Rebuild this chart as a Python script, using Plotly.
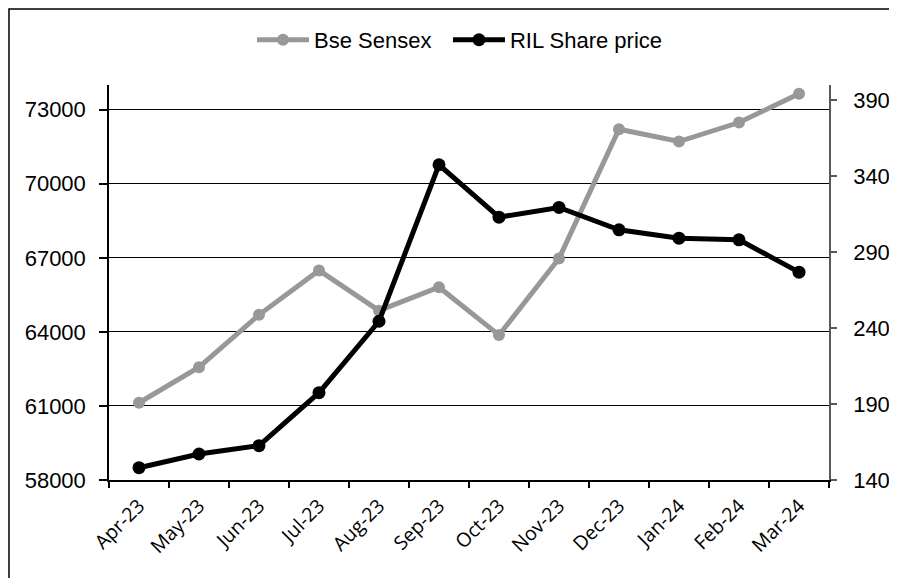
import plotly.graph_objects as go
from plotly.subplots import make_subplots

months = ["Apr-23", "May-23", "Jun-23", "Jul-23", "Aug-23", "Sep-23",
          "Oct-23", "Nov-23", "Dec-23", "Jan-24", "Feb-24", "Mar-24"]
sensex = [61130, 62570, 64690, 66490, 64860, 65810,
          63870, 66970, 72210, 71710, 72480, 73650]
ril = [148.1, 157.1, 162.6, 197.5, 244.5, 347.5,
       313.0, 319.4, 304.7, 299.2, 298.1, 276.8]

left_ticks = [58000, 61000, 64000, 67000, 70000, 73000]
right_ticks = [140, 190, 240, 290, 340, 390]

fig = make_subplots(specs=[[{"secondary_y": True}]])

fig.add_trace(go.Scatter(
    x=months, y=sensex, name="Bse Sensex", mode="lines+markers",
    line=dict(color="#98989a", width=5),
    marker=dict(color="#98989a", size=12),
    legend="legend",
), secondary_y=False)

fig.add_trace(go.Scatter(
    x=months, y=ril, name="RIL Share price", mode="lines+markers",
    line=dict(color="#000000", width=5),
    marker=dict(color="#000000", size=13),
    legend="legend2",
), secondary_y=True)

num_font = dict(family="Liberation Sans, Arial, sans-serif", size=22, color="#000000")
leg_font = dict(family="Liberation Sans, Arial, sans-serif", size=22, color="#000000")

fig.update_xaxes(
    type="category",
    domain=[0, 1],
    showgrid=False,
    showline=True, linecolor="#000000", linewidth=1.5,
    ticks="outside", ticklen=6, tickcolor="#000000", tickwidth=1.5,
    tickson="boundaries",
    tickangle=-45,
    ticklabelstandoff=5,
    tickfont=dict(family="Open Sans, sans-serif", size=19.5, color="#000000"),
    range=[-0.5, 11.5],
    automargin=False,
)

fig.update_yaxes(
    range=[58000, 74000],
    tickvals=left_ticks, ticktext=[str(v) for v in left_ticks],
    showgrid=True, gridcolor="#000000", gridwidth=1,
    showline=True, linecolor="#000000", linewidth=1.5,
    ticks="outside", ticklen=8, tickcolor="#000000", tickwidth=1.5,
    ticklabelstandoff=9,
    tickfont=num_font,
    zeroline=False,
    automargin=False,
    secondary_y=False,
)

fig.update_yaxes(
    range=[140, 400],
    tickvals=right_ticks, ticktext=[str(v) for v in right_ticks],
    showgrid=False,
    showline=True, linecolor="#595959", linewidth=1.5,
    ticks="outside", ticklen=6, tickcolor="#595959", tickwidth=1.5,
    ticklabelstandoff=12,
    tickfont=num_font,
    zeroline=False,
    automargin=False,
    secondary_y=True,
)

fig.update_layout(
    width=889, height=570,
    margin=dict(l=101, r=68, t=77, b=98, autoexpand=False),
    paper_bgcolor="#ffffff", plot_bgcolor="#ffffff",
    showlegend=True,
    legend=dict(
        orientation="h", x=0.1986, xanchor="left", y=1.114, yanchor="middle",
        font=leg_font, itemwidth=52, bgcolor="rgba(0,0,0,0)",
    ),
    legend2=dict(
        orientation="h", x=0.4708, xanchor="left", y=1.114, yanchor="middle",
        font=leg_font, itemwidth=52, bgcolor="rgba(0,0,0,0)",
    ),
    shapes=[dict(
        type="rect", xref="paper", yref="paper",
        x0=-0.1389, x1=1.5, y0=-0.5, y1=1.1924,
        line=dict(color="#000000", width=1.5), fillcolor="rgba(0,0,0,0)",
        layer="below",
    )],
)

fig.write_html("out.html")
